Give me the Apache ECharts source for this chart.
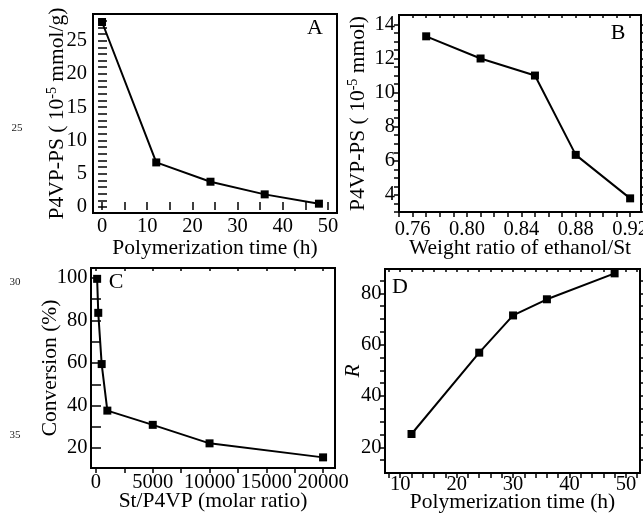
<!DOCTYPE html>
<html><head><meta charset="utf-8">
<script src="https://cdn.jsdelivr.net/npm/echarts@6/dist/echarts.min.js"></script>
<style>html,body{margin:0;padding:0;background:#fff}#c{width:643px;height:518px}</style>
</head><body><div id="c"></div><script>
// ---- data ----
const aTime = [0, 12, 24, 36, 48];
const aP4VP = [27.8, 6.7, 3.8, 1.9, 0.5];
const bRatio = [0.77, 0.81, 0.85, 0.88, 0.92];
const bP4VP = [13.3, 12.0, 11.0, 6.35, 3.8];
const cStP4VP = [100, 200, 500, 1000, 5000, 10000, 20000];
const cConversion = [99.6, 83.6, 59.5, 37.6, 30.9, 22.2, 15.6];
const dTime = [12, 24, 30, 36, 48];
const dR = [25.2, 56.9, 71.4, 77.7, 87.8];
// ---- tick labels ----
const aXLabels = [0, 10, 20, 30, 40, 50];
const aYLabels = [0, 5, 10, 15, 20, 25];
const bXLabels = [0.76, 0.80, 0.84, 0.88, 0.92];
const bYLabels = [4, 6, 8, 10, 12, 14];
const cXLabels = [0, 5000, 10000, 15000, 20000];
const cYLabels = [20, 40, 60, 80, 100];
const dXLabels = [10, 20, 30, 40, 50];
const dYLabels = [20, 40, 60, 80];
const panelLetters = ['A', 'B', 'C', 'D'];
const lineNumbers = ['25', '30', '35'];

function steps(a, b, s, scale) {
  const out = [];
  for (let v = a; v <= b + 1e-9; v += s) out.push(scale ? Math.round(v) / scale : v);
  return out;
}
const aXTicks = steps(0, 50, 5);
const aYTicks = steps(0, 28, 1);
const bXTicks = steps(75, 92, 1, 100);
const bYTicks = steps(3, 14, 0.5);
const cXTicks = steps(0, 20000, 2500);
const cYTicks = steps(20, 100, 10);
const dXTicks = steps(8, 52, 2);
const dYTicks = steps(15, 85, 5);

const FONT = 'Liberation Serif';
const BLACK = '#000';
const CLEAR = 'rgba(0,0,0,0)';

const grids = [
  {left: 93, top: 14, width: 244, height: 199},
  {left: 399, top: 15, width: 242, height: 197},
  {left: 91, top: 268, width: 244, height: 200},
  {left: 385, top: 269, width: 255, height: 204}
];
const PAD_L = 5, PAD_B = 5, PAD_R = 4;

const panels = [
  {xMin: -2, xMax: 52, yMin: -0.9, yMax: 29, xl: aXLabels, yl: aYLabels, xt: aXTicks, yt: aYTicks,
   xName: 'Polymerization time (h)', yName: 'P4VP-PS ( 10{sup|-5} mmol/g)', xGap: 24, yGap: 24,
   xMargin: 3, yMargin: 6,
   xFmt: v => String(v), yFmt: v => String(v), x: aTime, y: aP4VP},
  {xMin: 0.75, xMax: 0.928, yMin: 3, yMax: 14.55, xl: bXLabels, yl: bYLabels, xt: bXTicks, yt: bYTicks,
   xName: 'Weight ratio of ethanol/St', yName: 'P4VP-PS ( 10{sup|-5} mmol)', xGap: 25, yGap: 29,
   xMargin: 7, yMargin: 4,
   xFmt: v => Number(v).toFixed(2), yFmt: v => String(v), x: bRatio, y: bP4VP},
  {xMin: -440, xMax: 21050, yMin: 10.6, yMax: 104.7, xl: cXLabels, yl: cYLabels, xt: cXTicks, yt: cYTicks,
   xName: 'St/P4VP (molar ratio)', yName: 'Conversion (%)', xGap: 22, yGap: 30,
   xMargin: 4.5, yMargin: 3.5,
   xFmt: v => String(v), yFmt: v => String(v), x: cStP4VP, y: cConversion},
  {xMin: 7.3, xMax: 52.5, yMin: 10, yMax: 89.5, xl: dXLabels, yl: dYLabels, xt: dXTicks, yt: dYTicks,
   xName: 'Polymerization time (h)', yName: 'R', xGap: 18, yGap: 21, italicY: true,
   xMargin: 1, yMargin: 3.5,
   xFmt: v => String(v), yFmt: v => String(v), x: dTime, y: dR}
];

const xAxis = [], yAxis = [], series = [], gridList = [];
const hiddenLabel = list => ({show: true, customValues: list, color: CLEAR, fontSize: 1,
  formatter: v => '{h|' + v + '}', rich: {h: {color: CLEAR, fontSize: 1}}});
const noLine = {show: false};
function tickAxis(gridIndex, min, max, position, len, list) {
  return {
    type: 'value', gridIndex, min, max, position,
    axisLine: noLine,
    axisTick: {show: true, inside: true, length: len, customValues: list, lineStyle: {color: BLACK, width: 1.5}},
    axisLabel: hiddenLabel(list), splitLine: {show: false}
  };
}

panels.forEach((p, g) => {
  const gr = grids[g];
  const mainGrid = 2 * g, tickGrid = 2 * g + 1;
  gridList.push(Object.assign({outerBoundsMode: 'none', containLabel: false,
    show: true, borderColor: BLACK, borderWidth: 2, backgroundColor: 'transparent'}, gr));
  // slightly larger grid holding the tick marks that stick out of the frame
  gridList.push({outerBoundsMode: 'none', containLabel: false, show: false,
    left: gr.left - PAD_L, top: gr.top, width: gr.width + PAD_L + PAD_R, height: gr.height + PAD_B});
  const ux = (p.xMax - p.xMin) / gr.width, uy = (p.yMax - p.yMin) / gr.height;
  const txMin = p.xMin - PAD_L * ux, txMax = p.xMax + PAD_R * ux, tyMin = p.yMin - PAD_B * uy;

  const nameStyle = {fontFamily: FONT, fontSize: 21.5, color: BLACK,
    rich: {sup: {fontFamily: FONT, fontSize: 14, color: BLACK, padding: [0, 0, 10, 0]}}};
  const labelBase = {fontFamily: FONT, fontSize: 20.5, color: BLACK};
  xAxis.push({
    type: 'value', gridIndex: mainGrid, min: p.xMin, max: p.xMax,
    position: 'bottom', axisLine: noLine, axisTick: {show: false},
    axisLabel: Object.assign({customValues: p.xl, margin: p.xMargin, formatter: p.xFmt}, labelBase),
    splitLine: {show: false},
    name: p.xName, nameLocation: 'middle', nameGap: p.xGap, nameMoveOverlap: false, nameTextStyle: nameStyle
  });
  xAxis.push(tickAxis(tickGrid, txMin, txMax, 'bottom', PAD_B, p.xt));
  xAxis.push(tickAxis(tickGrid, txMin, txMax, 'top', 3, p.xt));
  yAxis.push({
    type: 'value', gridIndex: mainGrid, min: p.yMin, max: p.yMax,
    position: 'left', axisLine: noLine, axisTick: {show: false},
    axisLabel: Object.assign({customValues: p.yl, margin: p.yMargin, formatter: p.yFmt}, labelBase),
    splitLine: {show: false},
    name: p.yName, nameLocation: 'middle', nameGap: p.yGap, nameMoveOverlap: false,
    nameTextStyle: Object.assign({}, nameStyle, p.italicY ? {fontStyle: 'italic'} : {})
  });
  yAxis.push(tickAxis(tickGrid, tyMin, p.yMax, 'left', PAD_L, p.yt));
  yAxis.push(tickAxis(tickGrid, tyMin, p.yMax, 'right', PAD_R, p.yt));
  series.push({
    type: 'line', xAxisIndex: 3 * g, yAxisIndex: 3 * g,
    data: p.x.map((v, i) => [v, p.y[i]]),
    symbol: 'rect', symbolSize: 8, showSymbol: true,
    lineStyle: {color: BLACK, width: 2}, itemStyle: {color: BLACK},
    animation: false, silent: true
  });
});

const letterPos = [[315, 28], [618, 33], [116, 282], [400, 287]];
const linePos = [[17, 128], [15, 282], [15, 435]];
const graphic = [];
panelLetters.forEach((t, i) => graphic.push({type: 'text', x: letterPos[i][0], y: letterPos[i][1],
  style: {text: t, font: '22px "Liberation Serif"', fill: BLACK, align: 'center', verticalAlign: 'middle'}}));
lineNumbers.forEach((t, i) => graphic.push({type: 'text', x: linePos[i][0], y: linePos[i][1],
  style: {text: t, font: '11px "Liberation Serif"', fill: '#222', align: 'center', verticalAlign: 'middle'}}));

const chart = echarts.init(document.getElementById('c'), null, {renderer: 'canvas'});
chart.setOption({
  backgroundColor: '#fff',
  animation: false,
  grid: gridList,
  xAxis, yAxis, series, graphic
});
</script></body></html>
